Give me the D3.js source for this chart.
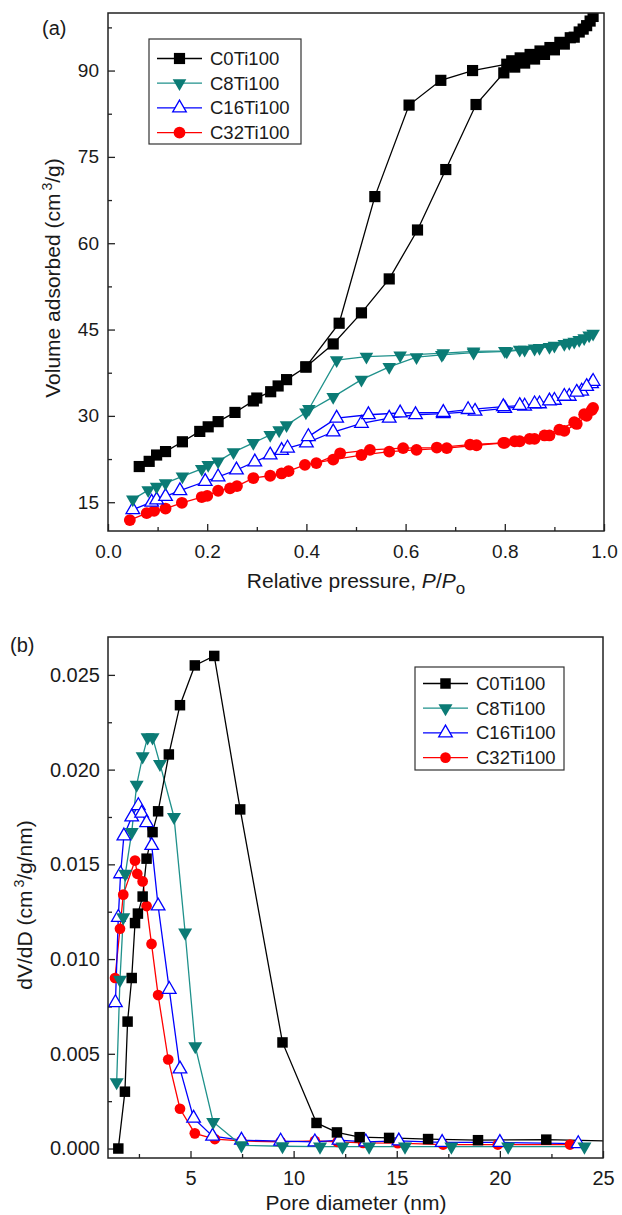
<!DOCTYPE html>
<html>
<head>
<meta charset="utf-8">
<script src="https://cdn.jsdelivr.net/npm/d3@7"></script>
<style>
  body { margin: 0; background: #fff; }
  text { font-family: "Liberation Sans", Arial, sans-serif; fill: #1a1a1a; }
</style>
</head>
<body>
<svg id="fig" width="622" height="1215"></svg>
<script>
const samples = ["C0Ti100", "C8Ti100", "C16Ti100", "C32Ti100"]

// (a) N2 isotherms, [P/Po, volume], adsorption then desorption branch
const c0Ads = [[0.063,21.2],[0.083,22.1],[0.098,23.2],[0.116,23.8],[0.150,25.5],[0.185,27.3],[0.202,28.1],[0.222,29.0],[0.256,30.6],[0.293,32.6],[0.300,33.1],[0.328,34.2],[0.343,35.2],[0.360,36.3],[0.399,38.5],[0.454,42.5],[0.511,47.9],[0.567,53.8],[0.624,62.3],[0.681,72.8],[0.742,84.1],[0.798,89.6],[0.820,90.6],[0.840,91.3],[0.860,92.0],[0.880,92.8],[0.900,93.6],[0.920,94.6],[0.940,95.8],[0.958,97.2],[0.972,98.6]]
const c0Des = [[0.978,99.4],[0.965,97.8],[0.950,96.7],[0.932,95.7],[0.911,94.9],[0.891,94.0],[0.871,93.4],[0.851,92.8],[0.831,92.2],[0.814,91.7],[0.804,91.1],[0.735,90.0],[0.671,88.3],[0.607,84.0],[0.538,68.1],[0.466,46.1],[0.399,38.5]]
const c8Ads = [[0.050,15.5],[0.081,17.1],[0.098,17.7],[0.116,18.3],[0.150,19.5],[0.189,20.8],[0.202,21.5],[0.222,22.1],[0.253,23.7],[0.293,25.3],[0.327,26.7],[0.345,27.5],[0.360,28.4],[0.399,30.6],[0.454,33.3],[0.511,36.3],[0.567,38.5],[0.622,40.2],[0.673,40.6],[0.737,41.0],[0.804,41.2],[0.840,41.5],[0.870,41.8],[0.900,42.2],[0.930,42.7],[0.950,43.2],[0.970,44.0]]
const c8Des = [[0.978,44.3],[0.960,43.5],[0.940,42.9],[0.920,42.5],[0.890,42.0],[0.860,41.7],[0.830,41.5],[0.800,41.3],[0.737,41.2],[0.676,40.9],[0.589,40.5],[0.521,40.3],[0.461,39.7],[0.405,31.2]]
const c16Ads = [[0.050,13.7],[0.088,15.0],[0.098,15.4],[0.116,16.0],[0.145,17.0],[0.196,18.6],[0.222,19.4],[0.259,20.6],[0.296,22.0],[0.327,23.2],[0.350,24.0],[0.362,24.4],[0.400,25.3],[0.454,27.2],[0.511,28.7],[0.567,29.6],[0.620,30.2],[0.676,30.4],[0.740,30.8],[0.800,31.3],[0.840,31.7],[0.870,32.1],[0.900,32.7],[0.930,33.4],[0.955,34.3],[0.975,35.6]]
const c16Des = [[0.978,36.0],[0.965,35.1],[0.945,34.1],[0.920,33.4],[0.890,32.6],[0.860,32.1],[0.830,31.8],[0.797,31.6],[0.726,31.1],[0.676,30.6],[0.589,30.5],[0.525,30.2],[0.461,29.6],[0.404,26.4]]
const c32Ads = [[0.044,11.9],[0.078,13.1],[0.093,13.5],[0.116,13.9],[0.149,14.9],[0.189,15.9],[0.200,16.1],[0.222,17.0],[0.246,17.4],[0.260,17.8],[0.293,19.2],[0.327,19.6],[0.350,20.0],[0.364,20.4],[0.397,21.5],[0.454,22.4],[0.511,23.2],[0.567,23.8],[0.622,24.1],[0.683,24.4],[0.743,24.9],[0.800,25.3],[0.830,25.6],[0.860,26.0],[0.890,26.6],[0.920,27.4],[0.945,28.6],[0.965,30.0],[0.975,31.0]]
const c32Des = [[0.978,31.4],[0.960,30.3],[0.940,28.9],[0.910,27.6],[0.880,26.6],[0.850,26.0],[0.820,25.6],[0.797,25.3],[0.730,25.0],[0.663,24.5],[0.595,24.4],[0.528,24.1],[0.468,23.5],[0.420,21.8]]

// (b) pore size distributions, [diameter nm, dV/dD]
const c0Psd = [[1.50,0.0000],[1.82,0.0030],[1.95,0.0067],[2.15,0.0090],[2.31,0.0119],[2.45,0.0124],[2.68,0.0133],[2.87,0.0153],[3.16,0.0167],[3.43,0.0178],[3.95,0.0208],[4.49,0.0234],[5.21,0.0255],[6.15,0.0260],[7.41,0.0179],[9.46,0.0056],[11.11,0.00135],[12.10,0.00085],[13.20,0.00060],[14.63,0.00056],[16.52,0.00050],[18.94,0.00044],[22.25,0.00047],[27.0,0.00035]]
const c8Psd = [[1.42,0.0035],[1.58,0.0089],[1.74,0.0122],[1.84,0.0145],[2.15,0.0167],[2.39,0.0192],[2.68,0.0207],[2.92,0.0217],[3.16,0.0217],[3.52,0.0203],[4.20,0.0175],[4.74,0.0114],[5.23,0.0054],[6.10,0.0014],[7.47,0.00017],[9.46,0.00012],[11.28,0.0001],[12.37,0.0001],[13.66,0.0001],[15.40,0.0001],[17.65,0.0001],[20.40,0.0001],[24.10,0.0001]]
const c16Psd = [[1.36,0.0077],[1.50,0.0122],[1.61,0.0145],[1.77,0.0165],[2.15,0.0175],[2.47,0.0181],[2.63,0.0177],[2.87,0.0172],[3.12,0.0160],[3.43,0.0128],[3.97,0.0084],[4.49,0.0042],[5.15,0.0016],[6.07,0.00065],[7.47,0.00044],[9.37,0.00039],[11.03,0.00035],[12.20,0.00044],[13.50,0.00035],[15.10,0.00040],[17.20,0.00032],[20.00,0.00032],[23.80,0.00026]]
const c32Psd = [[1.34,0.0090],[1.58,0.0116],[1.74,0.0134],[2.31,0.0152],[2.42,0.0145],[2.68,0.0141],[2.87,0.0128],[3.11,0.0108],[3.43,0.0081],[3.92,0.0047],[4.49,0.0021],[5.21,0.0008],[6.18,0.0005],[7.47,0.0004],[9.37,0.00035],[11.03,0.0004],[12.13,0.00035],[13.37,0.0003],[15.05,0.00028],[17.25,0.00021],[19.90,0.00021],[23.40,0.00021]]

// tick labels
const isoXTicks = [0, 0.2, 0.4, 0.6, 0.8, 1.0]
const isoXMinor = [0.1, 0.3, 0.5, 0.7, 0.9]
const isoYTicks = [15, 30, 45, 60, 75, 90]
const isoYMinor = [22.5, 37.5, 52.5, 67.5, 82.5, 97.5]
const psdXTicks = [5, 10, 15, 20, 25]
const psdXMinor = [2.5, 7.5, 12.5, 17.5, 22.5]
const psdYTicks = [0, 0.005, 0.010, 0.015, 0.020, 0.025]
const psdYMinor = [0.0025, 0.0075, 0.0125, 0.0175, 0.0225]

// styling per sample
const lineColors = ["#000000", "#1f918b", "#0000ff", "#ff0000"]
const fillColors = ["#000000", "#0b7b75", "#ffffff", "#ff0000"]
const shapes = [d3.symbolSquare, d3.symbolTriangle, d3.symbolTriangle, d3.symbolCircle]
const rotations = [0, 180, 0, 0]

const svg = d3.select("#fig")
let clipId = 0

function drawPanel(o) {
  const { left, right, top, bottom } = o.box
  const x = d3.scaleLinear().domain(o.xDomain).range([left, right])
  const y = d3.scaleLinear().domain(o.yDomain).range([bottom, top])
  const g = svg.append("g")

  const cid = "clip" + (clipId++)
  svg.append("clipPath").attr("id", cid)
    .append("rect").attr("x", left).attr("y", top).attr("width", right - left).attr("height", bottom - top)

  const strip = sel => { sel.select(".domain").remove(); sel.selectAll("line").attr("stroke", "#222").attr("stroke-width", 1.3) }

  // x axis, ticks pointing inward
  g.append("g").attr("transform", `translate(0,${bottom})`)
    .call(d3.axisBottom(x).tickValues(o.xMinor).tickSizeInner(-4).tickSizeOuter(0).tickFormat(""))
    .call(strip)
  g.append("g").attr("transform", `translate(0,${bottom})`)
    .call(d3.axisBottom(x).tickValues(o.xTicks).tickSizeInner(-7).tickSizeOuter(0).tickPadding(o.xPad).tickFormat(o.xFmt))
    .call(strip)
    .selectAll("text").style("font-size", o.tickFont + "px").attr("fill", "#1a1a1a")

  // y axis
  g.append("g").attr("transform", `translate(${left},0)`)
    .call(d3.axisLeft(y).tickValues(o.yMinor).tickSizeInner(-4).tickSizeOuter(0).tickFormat(""))
    .call(strip)
  g.append("g").attr("transform", `translate(${left},0)`)
    .call(d3.axisLeft(y).tickValues(o.yTicks).tickSizeInner(-7).tickSizeOuter(0).tickPadding(o.yPad).tickFormat(o.yFmt))
    .call(strip)
    .selectAll("text").style("font-size", o.tickFont + "px").attr("fill", "#1a1a1a")

  // data
  const line = d3.line().x(d => x(d[0])).y(d => y(d[1]))
  const plot = g.append("g").attr("clip-path", `url(#${cid})`)
  o.order.forEach(i => {
    o.series[i].forEach(branch => {
      plot.append("path").datum(branch)
        .attr("d", line).attr("fill", "none")
        .attr("stroke", lineColors[i]).attr("stroke-width", 1.3)
    })
  })
  o.order.forEach(i => {
    const pts = o.series[i].flat()
    plot.selectAll(null).data(pts).enter().append("path")
      .attr("d", d3.symbol().type(shapes[i]).size(o.sizes[i]))
      .attr("transform", d => `translate(${x(d[0])},${y(d[1])}) rotate(${rotations[i]})`)
      .attr("fill", fillColors[i])
      .attr("stroke", i === 2 ? lineColors[i] : "none")
      .attr("stroke-width", 1.3)
  })

  // frame
  g.append("rect").attr("x", left).attr("y", top)
    .attr("width", right - left).attr("height", bottom - top)
    .attr("fill", "none").attr("stroke", "#222").attr("stroke-width", 1.5)

  // legend
  const L = o.legend
  g.append("rect").attr("x", L.x).attr("y", L.y).attr("width", L.w).attr("height", L.h)
    .attr("fill", "#fff").attr("stroke", "#333").attr("stroke-width", 1.2)
  samples.forEach((name, i) => {
    const ry = L.y + L.first + i * L.step
    g.append("line").attr("x1", L.x + 8).attr("x2", L.x + 53).attr("y1", ry).attr("y2", ry)
      .attr("stroke", lineColors[i]).attr("stroke-width", 1.3)
    g.append("path")
      .attr("d", d3.symbol().type(shapes[i]).size(o.sizes[i]))
      .attr("transform", `translate(${L.x + 30.5},${ry}) rotate(${rotations[i]})`)
      .attr("fill", fillColors[i])
      .attr("stroke", i === 2 ? lineColors[i] : "none").attr("stroke-width", 1.3)
    g.append("text").attr("x", L.x + 61).attr("y", ry + 6.5)
      .style("font-size", L.font + "px").text(name)
  })

  return { x, y, g }
}

// ---- panel (a)
const pa = drawPanel({
  box: { left: 108, right: 604, top: 13, bottom: 531 },
  xDomain: [0, 1], yDomain: [10, 100],
  xTicks: isoXTicks, xMinor: isoXMinor, yTicks: isoYTicks, yMinor: isoYMinor,
  xFmt: d3.format(".1f"), yFmt: d3.format("d"),
  xPad: 14, yPad: 9, tickFont: 19,
  series: [[c0Ads, c0Des], [c8Ads, c8Des], [c16Ads, c16Des], [c32Ads, c32Des]],
  order: [3, 2, 1, 0],
  sizes: [125, 80, 80, 110],
  legend: { x: 149, y: 39, w: 152, h: 105, first: 19.5, step: 24.7, font: 18.5 }
})

svg.append("text").attr("x", 42).attr("y", 35).style("font-size", "20px").text("(a)")

const ta = svg.append("text").attr("x", 356).attr("y", 588)
  .attr("text-anchor", "middle").style("font-size", "21px")
ta.append("tspan").text("Relative pressure, ")
ta.append("tspan").style("font-style", "italic").text("P")
ta.append("tspan").text("/")
ta.append("tspan").style("font-style", "italic").text("P")
ta.append("tspan").attr("dy", 6).style("font-size", "17px").text("o")

const ya = svg.append("text")
  .attr("transform", "translate(60,278) rotate(-90)")
  .attr("text-anchor", "middle").style("font-size", "21px")
ya.append("tspan").text("Volume adsorbed (cm")
ya.append("tspan").attr("dx", 3).attr("dy", -8).style("font-size", "14px").text("3")
ya.append("tspan").attr("dy", 8).text("/g)")

// ---- panel (b)
drawPanel({
  box: { left: 108, right: 603, top: 637, bottom: 1158 },
  xDomain: [1, 25], yDomain: [-0.0005, 0.027],
  xTicks: psdXTicks, xMinor: psdXMinor, yTicks: psdYTicks, yMinor: psdYMinor,
  xFmt: d3.format("d"), yFmt: d3.format(".3f"),
  xPad: 13, yPad: 8, tickFont: 20,
  series: [[c0Psd], [c8Psd], [c16Psd], [c32Psd]],
  order: [3, 2, 1, 0],
  sizes: [110, 85, 80, 90],
  legend: { x: 415, y: 667, w: 149, h: 103, first: 16.5, step: 24.7, font: 18.5 }
})

svg.append("text").attr("x", 10).attr("y", 652).style("font-size", "20px").text("(b)")

svg.append("text").attr("x", 356).attr("y", 1210)
  .attr("text-anchor", "middle").style("font-size", "21px").text("Pore diameter (nm)")

const yb = svg.append("text")
  .attr("transform", "translate(32,905) rotate(-90)")
  .attr("text-anchor", "middle").style("font-size", "21px")
yb.append("tspan").text("dV/dD (cm")
yb.append("tspan").attr("dx", 3).attr("dy", -8).style("font-size", "14px").text("3")
yb.append("tspan").attr("dy", 8).text("/g/nm)")
</script>
</body>
</html>
